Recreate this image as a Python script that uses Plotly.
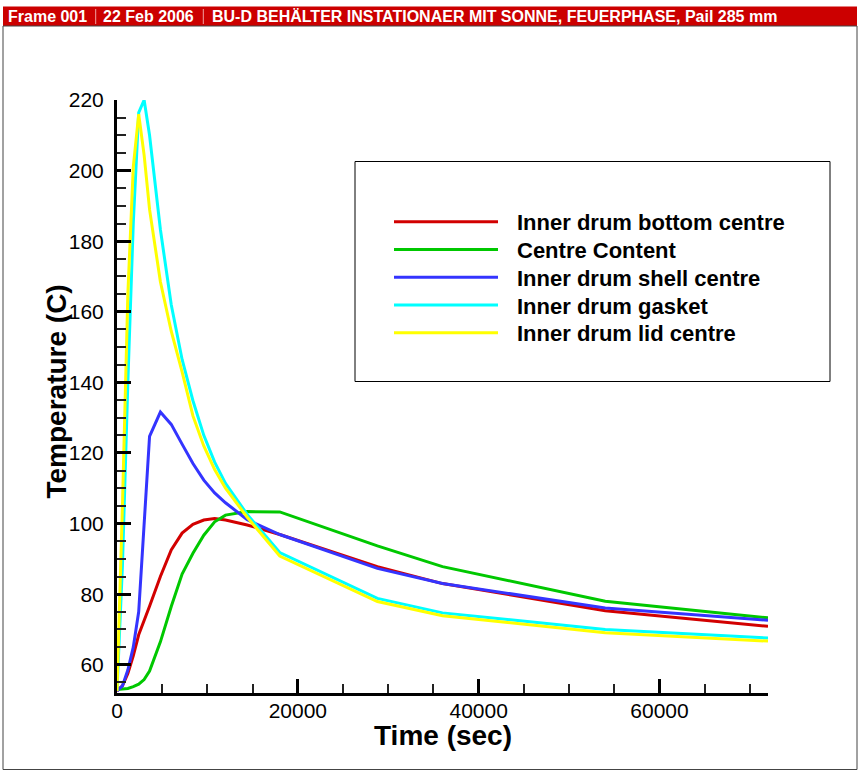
import plotly.graph_objects as go

# ---------------- data ----------------
time_s = [0, 600, 1200, 1800, 2400, 3000, 3600, 4800, 6000, 7200, 8400, 9600,
          10800, 12000, 14400, 18000, 28800, 36000, 54000, 72000]

bottom_centre = [52.6, 54.0, 57.5, 62.5, 68.5, 72.8, 76.6, 85.0, 92.5, 97.3, 99.8, 101.0,
                 101.4, 101.0, 99.6, 96.9, 87.8, 83.0, 75.3, 70.9]
centre_content = [53.0, 53.1, 53.3, 53.8, 54.5, 55.8, 58.2, 66.5, 76.5, 85.7, 91.6, 96.7,
                  100.5, 102.4, 103.4, 103.3, 93.7, 87.8, 78.0, 73.3]
shell_centre = [52.6, 54.0, 58.5, 65.0, 75.0, 99.0, 124.7, 131.6, 128.1, 122.5, 117.0, 112.3,
                108.7, 105.9, 101.1, 96.9, 87.3, 83.0, 76.1, 72.6]
gasket = [52.6, 88.0, 140.0, 185.0, 216.4, 220.0, 210.0, 183.3, 162.0, 146.5, 134.8, 125.0,
          117.4, 111.4, 102.6, 91.8, 78.8, 74.7, 70.0, 67.6]
lid_centre = [52.6, 105.0, 165.0, 201.0, 216.0, 204.4, 189.0, 168.5, 154.5, 143.0, 130.5, 122.0,
              115.3, 110.0, 101.8, 90.8, 77.9, 73.9, 69.1, 66.7]

series_names = ["Inner drum bottom centre", "Centre Content", "Inner drum shell centre",
                "Inner drum gasket", "Inner drum lid centre"]
series_values = [bottom_centre, centre_content, shell_centre, gasket, lid_centre]
series_colors = ["#d20000", "#00c800", "#3434ff", "#00ffff", "#ffff00"]

x_ticks = [0, 20000, 40000, 60000]
y_ticks = [60, 80, 100, 120, 140, 160, 180, 200, 220]

title_parts = ["Frame 001", "22 Feb 2006",
               "BU-D BEHÄLTER INSTATIONAER MIT SONNE, FEUERPHASE, Pail 285 mm"]
x_title = "Time (sec)"
y_title = "Temperature (C)"

# ---------------- layout geometry (pixels) ----------------
W, H = 859, 771
ML, MR, MT, MB = 117, 91, 100, 78
PW, PH = W - ML - MR, H - MT - MB
FONT = "Liberation Sans, Arial, sans-serif"


def px(x):
    return (x - ML) / PW


def py(y):
    return (H - MB - y) / PH


fig = go.Figure()
for name, vals, col in zip(series_names, series_values, series_colors):
    fig.add_trace(go.Scatter(x=time_s, y=vals, mode="lines", name=name,
                             line=dict(color=col, width=3), showlegend=False))

shapes = []
annotations = []

# title bar
shapes.append(dict(type="rect", xref="paper", yref="paper", x0=px(3), x1=px(857),
                   y0=py(26), y1=py(6.5), fillcolor="#cc0000", line=dict(width=0), layer="above"))
for sx in [95.7, 203.3]:
    shapes.append(dict(type="line", xref="paper", yref="paper", x0=px(sx), x1=px(sx),
                       y0=py(24), y1=py(9), line=dict(color="#f0a0a0", width=1)))
for txt, tx in zip(title_parts, [6.0, 100.8, 209.8]):
    annotations.append(dict(text=txt, xref="paper", yref="paper", x=px(tx), y=py(16.5),
                            xanchor="left", yanchor="middle", showarrow=False,
                            font=dict(family=FONT, size=16, color="white", weight="bold")))
# outer frame
shapes.append(dict(type="rect", xref="paper", yref="paper", x0=px(3), x1=px(857),
                   y0=py(769.5), y1=py(26), line=dict(color="#444444", width=1)))

# legend box
shapes.append(dict(type="rect", xref="paper", yref="paper", x0=px(355), x1=px(830),
                   y0=py(381.5), y1=py(161.5), line=dict(color="black", width=1),
                   fillcolor="white", layer="below"))
leg_y = [221.7, 249.4, 277.2, 305.0, 332.7]
for name, col, ly in zip(series_names, series_colors, leg_y):
    shapes.append(dict(type="line", xref="paper", yref="paper", x0=px(394), x1=px(498),
                       y0=py(ly), y1=py(ly), line=dict(color=col, width=3)))
    annotations.append(dict(text=name, xref="paper", yref="paper", x=px(515), y=py(ly + 1),
                            xanchor="left", yanchor="middle", showarrow=False,
                            font=dict(family=FONT, size=22, color="black", weight="bold")))

# axis titles
annotations.append(dict(text=x_title, xref="paper", yref="paper", x=0.5, y=py(735),
                        xanchor="center", yanchor="middle", showarrow=False,
                        font=dict(family=FONT, size=28, color="black", weight="bold")))
annotations.append(dict(text=y_title, xref="paper", yref="paper", x=px(55.5), y=py(392),
                        xanchor="center", yanchor="middle", showarrow=False, textangle=-90,
                        font=dict(family=FONT, size=28, color="black", weight="bold")))

fig.update_layout(
    width=W, height=H,
    margin=dict(l=ML, r=MR, t=MT, b=MB, pad=0),
    paper_bgcolor="white", plot_bgcolor="white",
    showlegend=False,
    shapes=shapes, annotations=annotations,
    font=dict(family=FONT, color="black"),
    xaxis=dict(
        range=[0, 72000], tickvals=x_ticks, ticktext=[str(v) for v in x_ticks],
        showline=True, linewidth=3, linecolor="black", mirror=False,
        ticks="inside", ticklen=14, tickwidth=3, tickcolor="black",
        minor=dict(ticks="inside", ticklen=9, tickwidth=1.6, tickcolor="#222222", dtick=5000),
        showgrid=False, zeroline=False,
        tickfont=dict(family=FONT, size=21, color="black"), ticklabelstandoff=-3,
    ),
    yaxis=dict(
        range=[52, 220], tickvals=y_ticks, ticktext=[str(v) for v in y_ticks],
        showline=True, linewidth=3, linecolor="black", mirror=False,
        ticks="inside", ticklen=14, tickwidth=3, tickcolor="black",
        minor=dict(ticks="inside", ticklen=9, tickwidth=1.6, tickcolor="#222222", dtick=5, tick0=0),
        showgrid=False, zeroline=False,
        tickfont=dict(family=FONT, size=21, color="black"), ticklabelstandoff=6,
    ),
)

fig.write_html("out.html", config={"displayModeBar": False},
               post_script="document.body.style.margin='0px';document.body.style.overflow='hidden';")
